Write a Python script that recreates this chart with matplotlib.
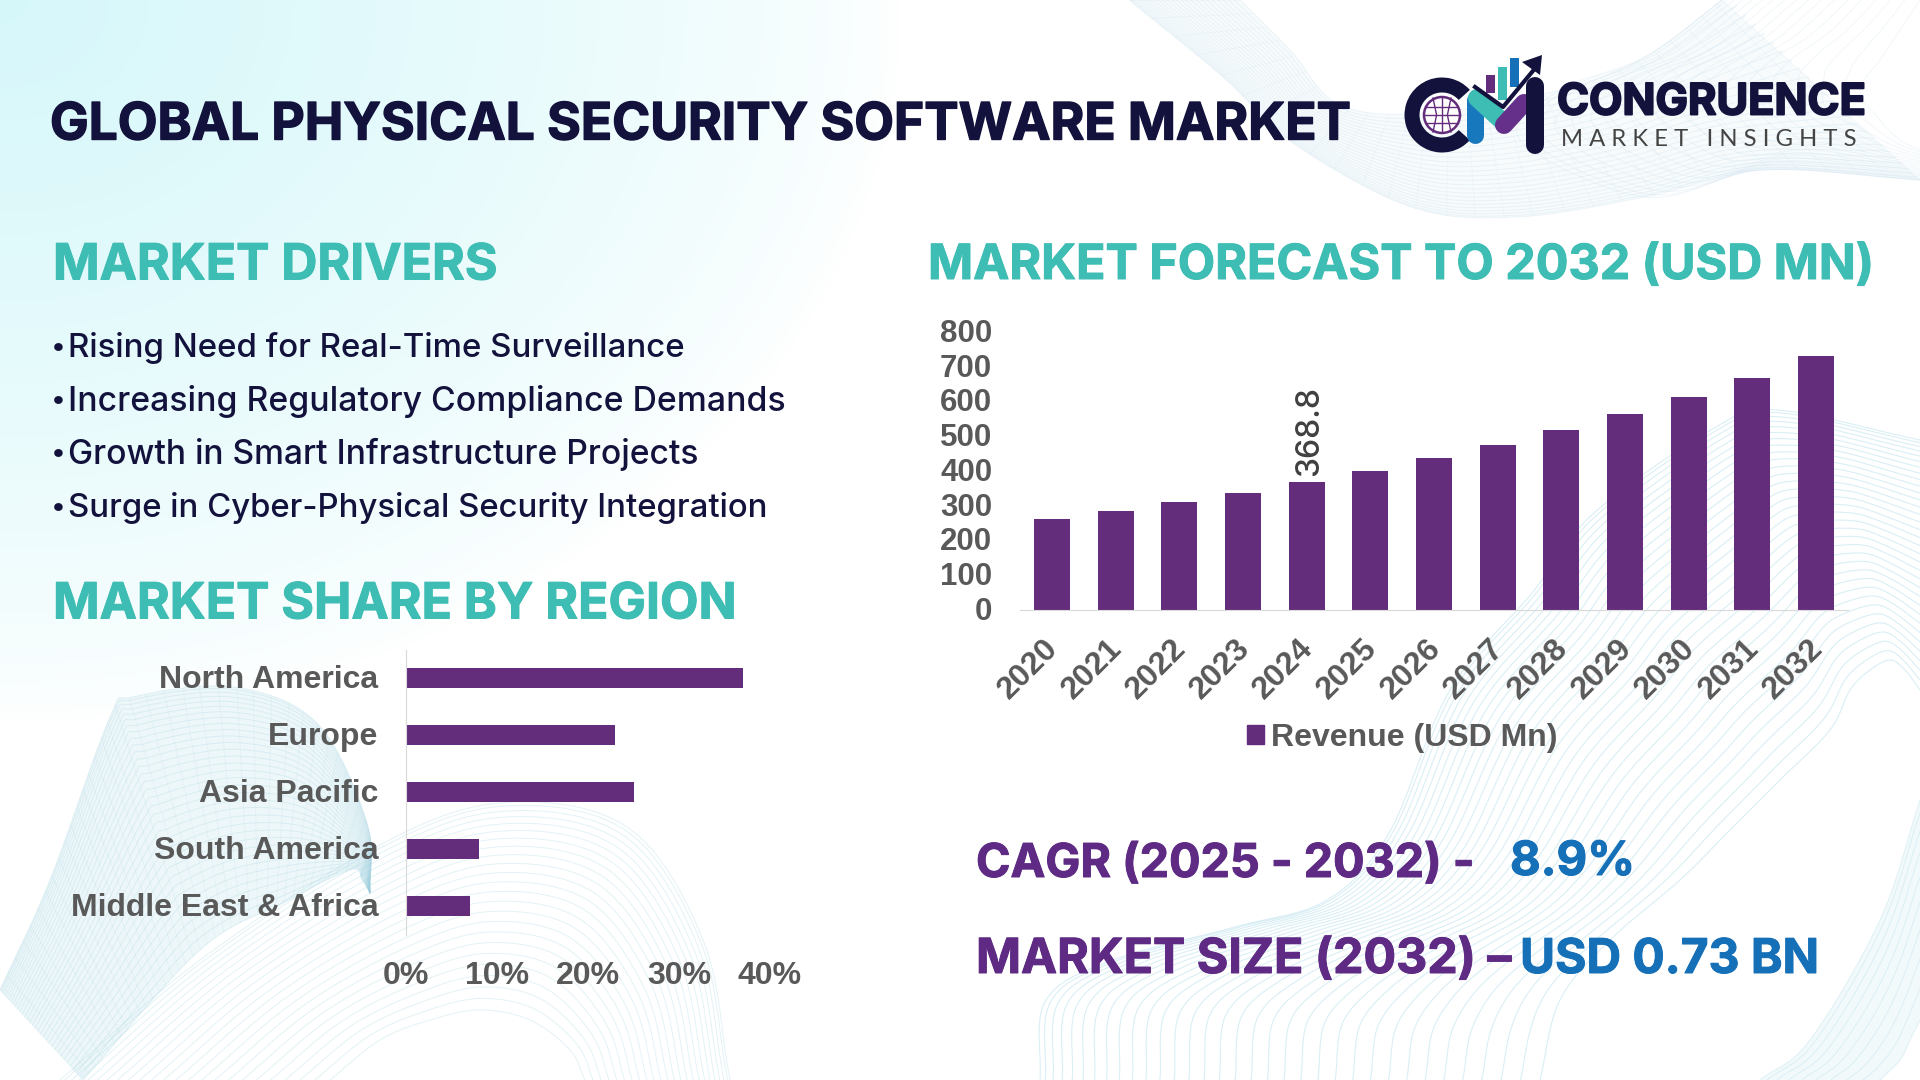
import numpy as np
import matplotlib
matplotlib.use("Agg")
import matplotlib.pyplot as plt
from matplotlib import patheffects
from matplotlib.collections import LineCollection
from matplotlib.patches import Circle, Polygon, Rectangle, Wedge, Patch
from matplotlib.transforms import ScaledTranslation

years = ["2020", "2021", "2022", "2023", "2024", "2025", "2026", "2027", "2028", "2029", "2030", "2031", "2032"]
revenue = [262, 285, 310, 337, 368.8, 400, 437, 474, 517, 563, 612, 667, 730]
revenue_ticks = [0, 100, 200, 300, 400, 500, 600, 700, 800]

regions = ["North America", "Europe", "Asia Pacific", "South America", "Middle East & Africa"]
region_share = [37, 23, 25, 8, 7]
share_ticks = [0, 10, 20, 30, 40]

drivers = [
    "Rising Need for Real-Time Surveillance",
    "Increasing Regulatory Compliance Demands",
    "Growth in Smart Infrastructure Projects",
    "Surge in Cyber-Physical Security Integration",
]

W, H = 1920, 1080
NAVY = "#12123c"
TEAL = "#3dbdb3"
PURPLE = "#5e2a84"
BLUE = "#1570b8"
BAR = "#642d7c"
GREY = "#595959"
HEAD_FONT = "Inter"
ARIAL = "Liberation Sans"


def smooth(pts, n=300):
    # catmull-rom through the given points
    p = np.array(pts, dtype=float)
    p = np.vstack([2 * p[0] - p[1], p, 2 * p[-1] - p[-2]])
    out = []
    steps = max(n // (len(p) - 3), 2)
    for i in range(1, len(p) - 2):
        t = np.linspace(0, 1, steps, endpoint=False)[:, None]
        a, b, c, d = p[i - 1], p[i], p[i + 1], p[i + 2]
        out.append(0.5 * (2 * b + (c - a) * t + (2 * a - 5 * b + 4 * c - d) * t ** 2 + (3 * b - a - 3 * c + d) * t ** 3))
    out.append(p[-2][None, :])
    return np.vstack(out)


def resample(c, n=300):
    d = np.r_[0, np.cumsum(np.hypot(*np.diff(c, axis=0).T))]
    s = np.linspace(0, d[-1], n)
    return np.c_[np.interp(s, d, c[:, 0]), np.interp(s, d, c[:, 1])]


def wave(ax, outer, inner, count, color="#9fd3e6", alpha=0.35, lw=0.7, fill=None, cross=0):
    a = resample(smooth(outer))
    b = resample(smooth(inner))
    if fill:
        ax.add_patch(Polygon(np.vstack([a, b[::-1]]), closed=True, fc=fill, ec="none", zorder=1))
    lines = [(1 - t) * a + t * b for t in np.linspace(0, 1, count) ** 1.3]
    ax.add_collection(LineCollection(lines, colors=color, alpha=alpha, linewidths=lw, zorder=2))
    if cross:
        rungs = [np.array([a[i], b[i]]) for i in np.linspace(0, len(a) - 1, cross).astype(int)]
        ax.add_collection(LineCollection(rungs, colors=color, alpha=alpha * 0.5, linewidths=lw, zorder=2))


def head(x, y, s, size, color, stroke=0.7):
    t = bg.text(x, y, s, family=HEAD_FONT, weight="bold", fontsize=size, color=color, va="center", zorder=5)
    t.set_path_effects([patheffects.withStroke(linewidth=stroke, foreground=color)])
    return t


def shift(labels, dx, dy):
    # move tick labels by some pixels, dy positive is down
    for lab in labels:
        lab.set_transform(lab.get_transform() + ScaledTranslation(dx / 100, -dy / 100, fig.dpi_scale_trans))


fig = plt.figure(figsize=(W / 100, H / 100), dpi=100)

# page background, all in pixel coordinates
bg = fig.add_axes([0, 0, 1, 1])
bg.set_xlim(0, W)
bg.set_ylim(H, 0)
bg.axis("off")

yy, xx = np.mgrid[0:H:4, 0:W:4]
fade = np.clip(1 - np.sqrt((xx / 900) ** 2 + (yy / 720) ** 2), 0, 1) ** 0.7
rgb = np.ones(xx.shape + (3,))
rgb[..., 0] -= fade * 0.16
rgb[..., 1] -= fade * 0.03
rgb[..., 2] -= fade * 0.02
bg.imshow(rgb, extent=[0, W, H, 0], aspect="auto", zorder=0)

# top right ribbon
wave(bg,
     [(1129, 0), (1223, 77), (1293, 143), (1411, 207), (1516, 217), (1645, 197), (1763, 170), (1920, 180)],
     [(1240, 0), (1290, 50), (1340, 105), (1430, 113), (1560, 90), (1645, 57), (1722, 0), (1722, 0)],
     26, color="#bcd8ea", alpha=0.24, fill="#f7fbfc", cross=30)
wave(bg,
     [(1722, 0), (1645, 57), (1560, 90), (1520, 140), (1645, 197), (1763, 170), (1920, 180)],
     [(1920, 0), (1900, 30), (1880, 60), (1860, 90), (1880, 120), (1900, 140), (1920, 150)],
     18, color="#bcd8ea", alpha=0.2)

# bottom left ribbons
wave(bg,
     [(60, 1080), (200, 960), (370, 850), (499, 803), (627, 827), (703, 940), (730, 1080)],
     [(330, 1080), (380, 1040), (430, 1020), (480, 1010), (530, 1020), (570, 1050), (585, 1080)],
     24, color="#a8d8e4", alpha=0.32)
wave(bg,
     [(0, 990), (50, 880), (110, 717), (133, 697), (233, 687), (317, 723), (367, 823), (370, 893)],
     [(83, 1080), (200, 950), (283, 903), (350, 870), (362, 880), (370, 893)],
     34, color="#9fd0e0", alpha=0.26, fill="#edf7f9", cross=40)

# bottom right ribbons
wave(bg,
     [(1040, 1080), (1046, 1000), (1113, 960), (1235, 927), (1327, 900), (1389, 833), (1450, 690), (1532, 593),
      (1594, 513), (1716, 427), (1777, 410), (1920, 440)],
     [(1540, 1080), (1560, 1000), (1610, 940), (1680, 880), (1730, 830), (1780, 780), (1830, 730), (1850, 690),
      (1870, 670), (1890, 660), (1905, 670), (1920, 690)],
     34, color="#a6d8e8", alpha=0.42, lw=0.8)
wave(bg,
     [(1760, 1080), (1810, 1040), (1880, 920), (1920, 800)],
     [(1880, 1080), (1900, 1060), (1910, 1040), (1920, 1020)],
     10, color="#a6d8e8", alpha=0.3, fill="#f1f9fb")

# headings and text
head(50, 126, "GLOBAL PHYSICAL SECURITY SOFTWARE MARKET", 37.1, NAVY, stroke=1)
head(53, 266, "MARKET DRIVERS", 36, TEAL)
head(53, 605, "MARKET SHARE BY REGION", 36, TEAL)
head(928, 266, "MARKET FORECAST TO 2032 (USD MN)", 34.9, TEAL)

for y, line, size in zip([348, 401, 454, 508], drivers, [23.8, 24.3, 24.2, 23.7]):
    bg.text(51, y, "•", family=HEAD_FONT, weight="medium", fontsize=20, color=NAVY, va="center", zorder=5)
    bg.text(68.5, y, line, family=HEAD_FONT, weight="medium", fontsize=size, color=NAVY, va="center", zorder=5)

head(976, 865, "CAGR (2025 - 2032) -", 33.6, PURPLE)
head(1510, 863, "8.9%", 34, BLUE)
head(976, 960, "MARKET SIZE (2032) –", 34.8, PURPLE)
head(1520, 960, "USD 0.73 BN", 34.5, BLUE)

# logo
px = 0.72
bg.add_patch(Wedge((1442, 115), 37.5, 42, 318, width=15, fc=NAVY, ec="none", zorder=5))
bg.add_patch(Circle((1442, 115), 18, fc="white", ec=BAR, lw=1.8, zorder=5))
for dx in [-9, 0, 9]:
    bg.plot([1442 + dx, 1442 + dx * 0.6, 1442 + dx], [98, 115, 132], color=BAR, lw=1, zorder=6)
for dy in [-8, 0, 8]:
    half = np.sqrt(18 ** 2 - dy ** 2)
    bg.plot([1442 - half, 1442 + half], [115 + dy, 115 + dy], color=BAR, lw=1, zorder=6)
for x0, top, bottom, c in [(1486, 75, 93, BAR), (1498, 67, 100, TEAL), (1510, 58, 87, BLUE)]:
    bg.add_patch(Rectangle((x0, top), 9, bottom - top, fc=c, ec="none", zorder=5))
bg.plot([1475, 1475], [100, 135], color="#1878bd", lw=17 * px, solid_capstyle="round", zorder=6)
bg.plot([1477, 1502], [98, 121], color=TEAL, lw=18 * px, solid_capstyle="round", zorder=7)
bg.plot([1504, 1524], [125, 103], color="#65308a", lw=18 * px, solid_capstyle="round", zorder=7)
bg.plot([1535, 1535], [86, 145], color=NAVY, lw=18 * px, solid_capstyle="round", zorder=7)
bg.plot([1475, 1503, 1537], [87, 107, 66], color=NAVY, lw=3, zorder=8)
bg.add_patch(Polygon([(1522, 62), (1542, 55), (1540, 75)], closed=True, fc=NAVY, ec="none", zorder=8))
head(1557, 103, "CONGRUENCE", 31.2, NAVY, stroke=1.4)
bg.text(1561, 140, "M A R K E T   I N S I G H T S", family="Lato", fontsize=17.2, color="#444444", va="center", zorder=5)

# forecast bars
ax = fig.add_axes([1020 / W, 1 - 610 / H, 828 / W, 278 / H], zorder=3)
ax.patch.set_alpha(0)
ax.bar(years, revenue, width=0.565, color=BAR)
ax.set_xlim(-0.5, 12.5)
ax.set_ylim(0, 800)
ax.set_yticks(revenue_ticks)
ax.tick_params(axis="y", length=0, pad=20, labelsize=22.5, labelcolor=GREY)
ax.tick_params(axis="x", length=0, pad=17, labelsize=23, labelcolor=GREY)
plt.setp(ax.get_xticklabels(), rotation=45, ha="right", rotation_mode="anchor", family=ARIAL, weight="bold")
plt.setp(ax.get_yticklabels(), family=ARIAL, weight="bold", va="center")
shift(ax.get_xticklabels(), -8.5, 0)
shift(ax.get_yticklabels(), 0, 2)
for s in ["top", "right", "left"]:
    ax.spines[s].set_visible(False)
ax.spines["bottom"].set_color("#d9d9d9")
ax.text(4.05, revenue[4] + 16, "368.8", rotation=90, ha="center", va="bottom", family=HEAD_FONT, weight="medium",
        fontsize=23, color="#404040")
bg.legend(handles=[Patch(color=BAR, label="Revenue (USD Mn)")], loc="center", bbox_to_anchor=(1402, 738),
          bbox_transform=bg.transData, frameon=False, handlelength=0.55, handleheight=0.55, handletextpad=0.2,
          borderpad=0, prop={"family": ARIAL, "weight": "bold", "size": 23}, labelcolor=GREY).set_zorder(5)

# region bars
ax2 = fig.add_axes([406.3 / W, 1 - 934.5 / H, 363.6 / W, 285 / H], zorder=3)
ax2.patch.set_alpha(0)
ax2.barh(regions, region_share, height=0.35, color=BAR)
ax2.set_ylim(4.5, -0.5)
ax2.set_xlim(0, 40)
ax2.set_xticks(share_ticks, [f"{v}%" for v in share_ticks])
ax2.tick_params(axis="y", length=0, pad=20, labelsize=23, labelcolor=GREY)
ax2.tick_params(axis="x", length=0, pad=19, labelsize=23, labelcolor=GREY)
plt.setp(ax2.get_xticklabels() + ax2.get_yticklabels(), family=ARIAL, weight="bold")
shift(ax2.get_yticklabels(), 0, -1.5)
for s in ["top", "right", "bottom"]:
    ax2.spines[s].set_visible(False)
ax2.spines["left"].set_color("#d9d9d9")

fig.savefig("out.png", dpi=100)
